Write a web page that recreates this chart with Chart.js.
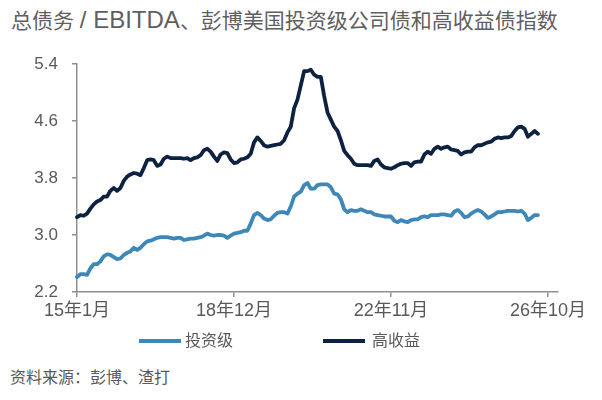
<!DOCTYPE html>
<html>
<head>
<meta charset="utf-8">
<script src="https://cdn.jsdelivr.net/npm/chart.js@4/dist/chart.umd.min.js"></script>
<style>
  html, body { margin: 0; padding: 0; background: #ffffff; }
  body { width: 602px; height: 400px; position: relative; overflow: hidden;
         font-family: "Liberation Sans", "Noto Sans CJK SC", sans-serif; color: #595959; }
  #title { position: absolute; left: 11px; top: 5px; font-size: 21px; line-height: 30px; white-space: nowrap; color: #5f5f5f; }
  #title .lat { font-size: 24px; }
  #wrap { position: absolute; left: 0; top: 0; width: 602px; height: 330px; }
  #legend { position: absolute; left: 0; top: 329px; width: 602px; height: 24px; font-size: 16px; line-height: 24px; color: #595959; }
  .sw { position: absolute; top: 10px; width: 42px; height: 4px; }
  .txt { position: absolute; top: 0; }
  #source { position: absolute; left: 10px; top: 366px; font-size: 16px; line-height: 24px; color: #595959; white-space: nowrap; }
</style>
</head>
<body>
<div id="title">总债务 <span class="lat">/ EBITDA</span>、彭博美国投资级公司债和高收益债指数</div>
<div id="wrap"><canvas id="c" width="602" height="330"></canvas></div>
<div id="legend"></div>
<div id="source">资料来源：彭博、渣打</div>
<script>
// ---- data ----
const startYear = 2015;
const monthCount = 145; // Jan 2015 .. Jan 2027 (axis range)
const categories = [];
for (let i = 0; i < monthCount; i++) {
  const y = startYear + Math.floor(i / 12);
  const m = (i % 12) + 1;
  categories.push(String(y % 100).padStart(2, '0') + '年' + m + '月');
}
const tickLabels = ['15年1月', '18年12月', '22年11月', '26年10月'];
const yTicks = [2.2, 3.0, 3.8, 4.6, 5.4];

const seriesNames = ['投资级', '高收益'];
const seriesColors = ['#3d87b9', '#0d2240'];

const investmentGrade = [
  2.41, 2.45, 2.45, 2.44, 2.53, 2.59, 2.59, 2.63, 2.70, 2.73,
  2.72, 2.69, 2.66, 2.67, 2.72, 2.75, 2.77, 2.82, 2.79, 2.82,
  2.87, 2.91, 2.92, 2.94, 2.96, 2.97, 2.97, 2.97, 2.96, 2.95,
  2.96, 2.96, 2.93, 2.94, 2.95, 2.95, 2.96, 2.97, 2.99, 3.02,
  3.00, 2.99, 3.00, 3.00, 2.99, 2.96, 2.99, 3.02, 3.03, 3.04,
  3.06, 3.06, 3.16, 3.28, 3.31, 3.28, 3.23, 3.21, 3.22, 3.27,
  3.31, 3.32, 3.32, 3.30, 3.40, 3.54, 3.58, 3.61, 3.70, 3.73,
  3.65, 3.65, 3.70, 3.71, 3.71, 3.71, 3.67, 3.58, 3.57, 3.50,
  3.36, 3.32, 3.35, 3.34, 3.34, 3.36, 3.34, 3.32, 3.32, 3.29,
  3.28, 3.27, 3.26, 3.26, 3.26, 3.20, 3.18, 3.21, 3.19, 3.18,
  3.21, 3.22, 3.22, 3.25, 3.26, 3.25, 3.28, 3.28, 3.28, 3.29,
  3.29, 3.28, 3.27, 3.33, 3.35, 3.31, 3.25, 3.26, 3.30, 3.33,
  3.35, 3.33, 3.29, 3.24, 3.26, 3.29, 3.32, 3.32, 3.33, 3.34,
  3.34, 3.34, 3.33, 3.34, 3.30, 3.21, 3.24, 3.28, 3.28
];

const highYield = [
  3.25, 3.28, 3.27, 3.30, 3.37, 3.43, 3.47, 3.49, 3.54, 3.54,
  3.62, 3.66, 3.62, 3.66, 3.76, 3.82, 3.85, 3.87, 3.86, 3.84,
  3.94, 4.05, 4.06, 4.05, 3.97, 3.99, 4.07, 4.10, 4.08, 4.08,
  4.08, 4.08, 4.07, 4.08, 4.05, 4.08, 4.09, 4.12, 4.19, 4.21,
  4.17, 4.10, 4.04, 4.13, 4.16, 4.15, 4.06, 4.01, 4.02, 4.06,
  4.07, 4.09, 4.14, 4.30, 4.37, 4.32, 4.26, 4.24, 4.25, 4.26,
  4.27, 4.28, 4.33, 4.44, 4.52, 4.78, 4.90, 5.10, 5.30, 5.30,
  5.32, 5.25, 5.22, 5.22, 4.95, 4.72, 4.62, 4.52, 4.46, 4.33,
  4.18, 4.12, 4.07, 4.00, 3.98, 3.98, 3.98, 3.98, 3.97, 4.04,
  4.06, 3.99, 3.95, 3.94, 3.93, 3.95, 3.98, 4.00, 4.01, 4.01,
  3.97, 4.02, 4.03, 4.03, 4.13, 4.17, 4.14, 4.21, 4.24, 4.21,
  4.23, 4.24, 4.20, 4.19, 4.18, 4.13, 4.16, 4.17, 4.17, 4.23,
  4.26, 4.26, 4.28, 4.30, 4.31, 4.35, 4.37, 4.36, 4.37, 4.37,
  4.39, 4.46, 4.51, 4.52, 4.49, 4.38, 4.42, 4.46, 4.42
];

// ---- legend (HTML) ----
const legendPos = [{ sw: 139, tx: 185 }, { sw: 323, tx: 372 }];
const legendEl = document.getElementById('legend');
seriesNames.forEach((name, i) => {
  const sw = document.createElement('div');
  sw.className = 'sw';
  sw.style.left = legendPos[i].sw + 'px';
  sw.style.background = seriesColors[i];
  const tx = document.createElement('div');
  tx.className = 'txt';
  tx.style.left = legendPos[i].tx + 'px';
  tx.textContent = name;
  legendEl.appendChild(sw);
  legendEl.appendChild(tx);
});

// ---- chart ----
const axisColor = '#8f8f8f';
const tickColor = '#595959';
const fontFamily = '"Liberation Sans", "Noto Sans CJK SC", sans-serif';

new Chart(document.getElementById('c'), {
  type: 'line',
  data: {
    labels: categories,
    datasets: [
      { label: seriesNames[0], data: investmentGrade, borderColor: seriesColors[0], backgroundColor: seriesColors[0],
        borderWidth: 3.8, pointRadius: 0, tension: 0, borderJoinStyle: 'round', borderCapStyle: 'round' },
      { label: seriesNames[1], data: highYield, borderColor: seriesColors[1], backgroundColor: seriesColors[1],
        borderWidth: 3.8, pointRadius: 0, tension: 0, borderJoinStyle: 'round', borderCapStyle: 'round' }
    ]
  },
  options: {
    responsive: false,
    animation: false,
    events: [],
    layout: { padding: { top: 64, right: 44, bottom: 8, left: 2 } },
    plugins: { legend: { display: false }, title: { display: false }, tooltip: { enabled: false } },
    scales: {
      x: {
        type: 'category',
        offset: false,
        grid: { drawOnChartArea: false, drawTicks: true, tickLength: 5, color: axisColor, lineWidth: 1.5 },
        border: { display: true, color: axisColor, width: 1.5 },
        ticks: { autoSkip: false, maxRotation: 0, minRotation: 0, padding: 3, color: tickColor,
                 font: { size: 18, family: fontFamily } },
        afterBuildTicks: (s) => { s.ticks = s.ticks.filter(t => tickLabels.includes(categories[t.value])); },
        afterFit: (s) => { s.height = 30; }
      },
      y: {
        min: yTicks[0],
        max: yTicks[yTicks.length - 1],
        grid: { drawOnChartArea: false, drawTicks: true, tickLength: 5, color: axisColor, lineWidth: 1.5 },
        border: { display: true, color: axisColor, width: 1.5 },
        ticks: { stepSize: 0.8, padding: 14, color: tickColor, font: { size: 17, family: fontFamily },
                 callback: (v) => Number(v).toFixed(1) },
        afterBuildTicks: (s) => { s.ticks = yTicks.map(v => ({ value: v })); },
        afterFit: (s) => { s.width = 75; }
      }
    }
  }
});
</script>
</body>
</html>
